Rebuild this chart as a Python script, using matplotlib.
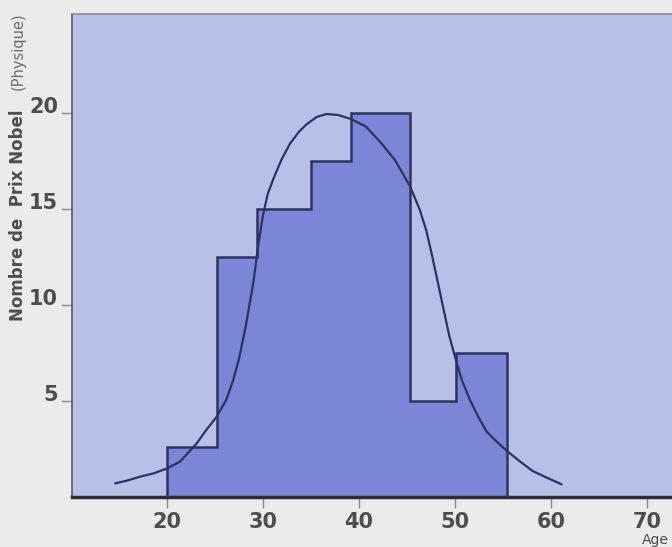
import numpy as np
import matplotlib
matplotlib.use("Agg")
import matplotlib.pyplot as plt

# ---- data ----
bin_edges = [20.0, 25.2, 29.4, 35.0, 39.2, 45.3, 50.1, 55.4]
counts = [2.6, 12.5, 15.0, 17.5, 20.0, 5.0, 7.5]

curve_age = [14.6, 15.8, 17.2, 18.6, 20.0, 21.35, 23.1, 24.1, 25.2, 26.2,
             26.9, 27.5, 28.2, 29.0, 29.5, 30.0, 30.5, 31.1, 31.9, 32.8,
             33.7, 34.5, 35.6, 36.6, 37.8, 39.1, 40.7, 42.2, 43.75, 45.3,
             46.3, 47.0, 47.6, 48.2, 48.8, 49.4, 50.0, 50.7, 51.6, 52.4,
             53.3, 54.3, 55.4, 56.8, 58.1, 59.6, 61.1]
curve_count = [0.71, 0.85, 1.06, 1.23, 1.49, 1.84, 2.8, 3.5, 4.2, 5.1,
               6.1, 7.2, 8.9, 11.2, 13.1, 14.7, 15.8, 16.6, 17.55, 18.4,
               19.0, 19.4, 19.8, 19.95, 19.9, 19.7, 19.3, 18.5, 17.55, 16.2,
               15.0, 13.9, 12.6, 11.2, 9.8, 8.4, 7.3, 6.1, 5.0, 4.2,
               3.4, 2.9, 2.4, 1.84, 1.35, 1.0, 0.66]

xticks = [20, 30, 40, 50, 60, 70]
yticks = [5, 10, 15, 20]

# ---- style ----
fig_bg = "#ebebea"
ax_bg = "#b8c0e7"
bar_fc = "#7b86d6"
ink = "#2e3260"
txt = "#4d4d4d"

fig = plt.figure(figsize=(6.72, 5.47), dpi=100, facecolor=fig_bg)
ax = fig.add_axes([72 / 672, 50 / 547, 623 / 672, 483 / 547])
ax.set_facecolor(ax_bg)

# filled histogram + stepped outline (no inner dividers)
ax.stairs(counts, bin_edges, fill=True, color=bar_fc, linewidth=0, zorder=2)
ax.stairs(counts, bin_edges, baseline=0, fill=False, edgecolor=ink,
          linewidth=1.8, zorder=3)
ax.plot(curve_age, curve_count, color=ink, linewidth=1.6, zorder=4,
        solid_capstyle="round", solid_joinstyle="round")

ax.set_xlim(10.1, 75.0)
ax.set_ylim(0, 25.16)

ax.set_xticks(xticks)
ax.set_xticklabels([str(v) for v in xticks])
ax.set_yticks(yticks)
ax.set_yticklabels([str(v) for v in yticks])

for lab in ax.get_xticklabels() + ax.get_yticklabels():
    lab.set_fontsize(15)
    lab.set_fontweight("bold")
    lab.set_color(txt)
for lab in ax.get_yticklabels():
    lab.set_verticalalignment("baseline")

ax.tick_params(axis="x", direction="out", length=8, width=1, color="#8a8a8a",
               pad=3)
ax.tick_params(axis="y", direction="out", length=8, width=1, color="#8a8a8a",
               pad=2)

ax.spines["right"].set_visible(False)
ax.spines["top"].set_color("#8a8a90")
ax.spines["top"].set_linewidth(1.2)
ax.spines["left"].set_color("#55596e")
ax.spines["left"].set_linewidth(1.2)
ax.spines["bottom"].set_color("#2c2c3a")
ax.spines["bottom"].set_linewidth(2.5)

# y-axis title
fig.text(18 / 672, 1 - 215 / 547, "Nombre de  Prix Nobel", rotation=90,
         ha="center", va="center", fontsize=12, fontweight="semibold",
         color=txt)
fig.text(18 / 672, 1 - 51 / 547, "(Physique)", rotation=90,
         ha="center", va="center", fontsize=10.5, color="#6a6a6a")

# x-axis title
fig.text(642 / 672, 1 - 540 / 547, "Age", ha="left", va="center",
         fontsize=10, color=txt)

fig.savefig("out.png", dpi=100, facecolor=fig_bg)
